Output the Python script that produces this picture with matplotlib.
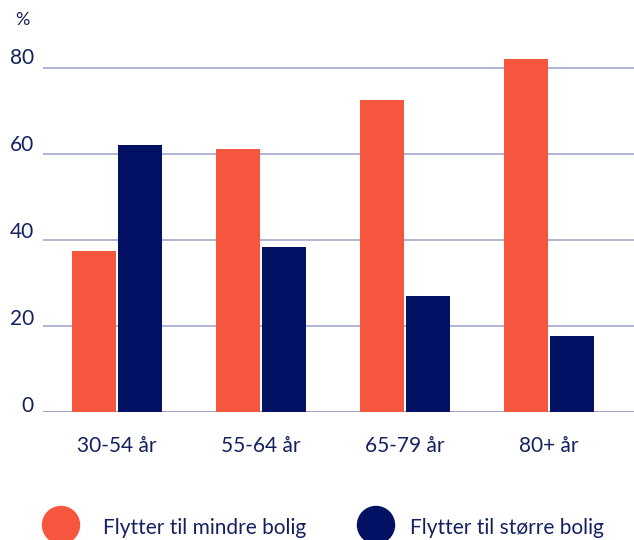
import matplotlib.pyplot as plt
from matplotlib.patches import Ellipse
from matplotlib.transforms import ScaledTranslation
import numpy as np

# Share of movers by age group (%)
categories = ["30-54 år", "55-64 år", "65-79 år", "80+ år"]
smaller_home = [37.5, 61.2, 72.5, 82.1]
larger_home = [62.1, 38.4, 27.0, 17.7]
series_names = ["Flytter til mindre bolig", "Flytter til større bolig"]
y_ticks = [0, 20, 40, 60, 80]

ORANGE = "#f5563d"
NAVY = "#021163"
TEXT = "#15215f"
GRID = "#a3a8d0"

plt.rcParams['font.family'] = ['Lato', 'DejaVu Sans']

fig = plt.figure(figsize=(6.34, 5.40), dpi=100)
ax = fig.add_axes([43 / 634, 0.2365, 591 / 634, 0.6696])

x = np.arange(len(categories))
width = 0.306
offset = 0.16
ax.bar(x - offset, smaller_home, width, color=ORANGE, zorder=3)
ax.bar(x + offset, larger_home, width, color=NAVY, zorder=3)

ax.set_xlim(-0.514, 3.59)
ax.set_ylim(0, 84)

# horizontal gridlines with labels sitting just above the line
for t in y_ticks:
    ax.axhline(t, color="#8a90c4" if t == 0 else GRID, lw=1.2, zorder=1)
    lift = 0.5 + t / 80 * 3.5
    shift = ScaledTranslation(-9 / 100, lift / 100, fig.dpi_scale_trans)
    ax.text(0, t, str(t), transform=ax.get_yaxis_transform() + shift,
            ha="right", va="baseline", fontsize=15, color=TEXT)

ax.set_yticks([])
ax.set_xticks(x)
ax.set_xticklabels(categories, fontsize=15, color=TEXT)
ax.tick_params(axis="x", length=0, pad=17)
for s in ax.spines.values():
    s.set_visible(False)

fig.text(22 / 634, 1 - 20 / 540, "%", ha="center", va="center",
         fontsize=13, color=TEXT)

# legend drawn as dots + labels
legend_items = [(61, ORANGE, 103), (376, NAVY, 410)]
for (cx, col, tx), name in zip(legend_items, series_names):
    fig.add_artist(Ellipse((cx / 634, 1 - 525 / 540), 37 / 634, 37 / 540,
                           color=col, transform=fig.transFigure))
    fig.text(tx / 634, 1 - 528 / 540, name, ha="left", va="center",
             fontsize=15, color=TEXT)

fig.savefig("out.png", dpi=100)
